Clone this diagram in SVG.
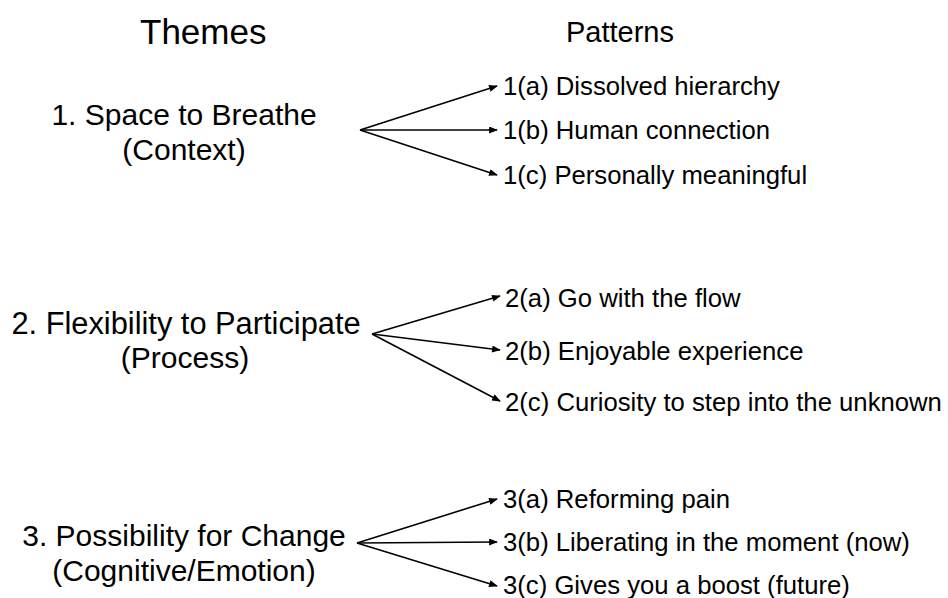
<svg xmlns="http://www.w3.org/2000/svg" width="948" height="598" viewBox="0 0 948 598">
<defs>
<style>
text{font-family:"Liberation Sans",Arial,Helvetica,sans-serif;fill:#000}
.h1{font-size:35px}
.h2{font-size:29px}
.th{font-size:30px;text-anchor:middle}
.pt{font-size:25.7px}
.c line{stroke:#000;stroke-width:1.6;marker-end:url(#ah)}
</style>
<marker id="ah" viewBox="0 0 10 8" refX="9" refY="4" markerWidth="10" markerHeight="7" markerUnits="userSpaceOnUse" orient="auto">
<path d="M0,0 L10,4 L0,8 Z" fill="#000"/>
</marker>
</defs>
<rect width="948" height="598" fill="#fff"/>
<g id="headers">
<text class="h1" x="140" y="44">Themes</text>
<text class="h2" x="566" y="42">Patterns</text>
</g>
<g id="theme1"><text class="th" x="184" y="125">1. Space to Breathe</text><text class="th" x="184" y="160">(Context)</text></g>
<g id="theme2"><text class="th" x="186" y="334" style="font-size:30.8px">2. Flexibility to Participate</text><text class="th" x="185" y="368">(Process)</text></g>
<g id="theme3"><text class="th" x="184" y="546">3. Possibility for Change</text><text class="th" x="184" y="581">(Cognitive/Emotion)</text></g>
<g id="p1a"><text class="pt" x="503" y="95">1(a) Dissolved hierarchy</text></g>
<g id="p1b"><text class="pt" x="503" y="139">1(b) Human connection</text></g>
<g id="p1c"><text class="pt" x="503" y="184">1(c) Personally meaningful</text></g>
<g id="p2a"><text class="pt" x="505" y="307">2(a) Go with the flow</text></g>
<g id="p2b"><text class="pt" x="505" y="360">2(b) Enjoyable experience</text></g>
<g id="p2c"><text class="pt" x="505" y="411">2(c) Curiosity to step into the unknown</text></g>
<g id="p3a"><text class="pt" x="503" y="508">3(a) Reforming pain</text></g>
<g id="p3b"><text class="pt" x="503" y="551">3(b) Liberating in the moment (now)</text></g>
<g id="p3c"><text class="pt" x="503" y="594">3(c) Gives you a boost (future)</text></g>
<g id="connectors" class="c">
<line x1="360" y1="130" x2="497" y2="86"/>
<line x1="360" y1="130" x2="497" y2="130"/>
<line x1="360" y1="130" x2="497" y2="175"/>
<line x1="372" y1="334" x2="500" y2="296"/>
<line x1="372" y1="334" x2="500" y2="350"/>
<line x1="372" y1="334" x2="500" y2="401"/>
<line x1="357" y1="543" x2="497" y2="499"/>
<line x1="357" y1="543" x2="497" y2="542"/>
<line x1="357" y1="543" x2="497" y2="586"/>
</g>
</svg>
